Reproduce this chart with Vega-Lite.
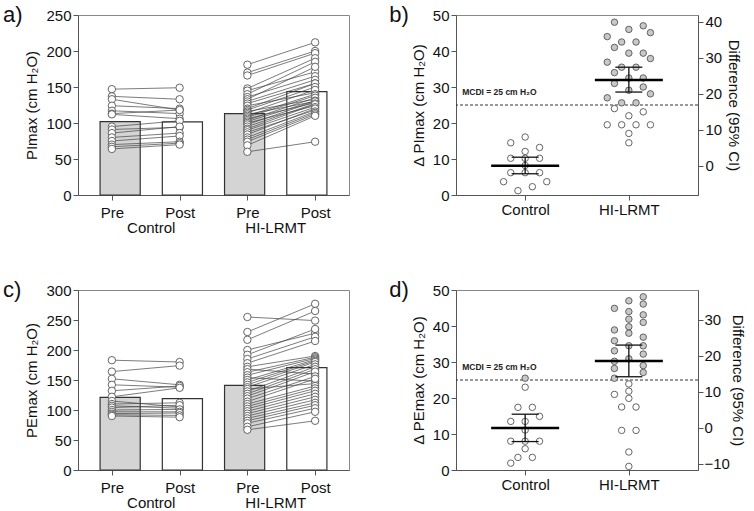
{
"padding": {"left": 2, "top": 3, "right": 0, "bottom": 0},
"config": {
  "font": "Liberation Sans",
  "view": {"stroke": "#888", "strokeWidth": 1},
  "axis": {"grid": false, "domainColor": "#555", "tickColor": "#555", "labelColor": "#111", "titleColor": "#111", "labelFontSize": 15, "titleFontSize": 15, "titleFontWeight": "normal", "tickSize": 5, "labelPadding": 2, "titlePadding": 6},
  "title": {"fontSize": 22, "fontWeight": "normal", "anchor": "start", "frame": "bounds", "color": "#111", "offset": -19, "dx": -22}
},
"spacing": 42,
"vconcat": [
{"spacing": 38, "hconcat": [
{
  "width": 271, "height": 180,
  "title": {"text": "a)"},
  "layer": [
    {
      "data": {"values": [
        {"g": "Control", "p": "Pre", "v": 102}, {"g": "Control", "p": "Post", "v": 101.5},
        {"g": "HI-LRMT", "p": "Pre", "v": 113}, {"g": "HI-LRMT", "p": "Post", "v": 143.5}]},
      "mark": {"type": "bar", "stroke": "#333", "strokeWidth": 1.2},
      "encoding": {
        "x": {"field": "g", "type": "nominal", "sort": ["Control", "HI-LRMT"], "scale": {"paddingInner": 0, "paddingOuter": 0.0887}, "axis": {"orient": "bottom", "title": null, "domain": false, "ticks": false, "labelPadding": 25, "labelAngle": 0}},
        "xOffset": {"field": "p", "type": "nominal", "sort": ["Pre", "Post"], "scale": {"paddingInner": 0.355, "paddingOuter": 0.1775}},
        "y": {"field": "v", "type": "quantitative", "scale": {"domain": [0, 250]}, "axis": {"values": [0, 50, 100, 150, 200, 250], "title": "PImax (cm H₂O)"}},
        "fill": {"field": "p", "type": "nominal", "scale": {"domain": ["Pre", "Post"], "range": ["#d4d4d4", "#ffffff"]}, "legend": null}
      }
    },
    {
      "data": {"values": [
        {"i":"C1","c":"C-Pre","v":147},{"i":"C1","c":"C-Post","v":149},
        {"i":"C2","c":"C-Pre","v":137},{"i":"C2","c":"C-Post","v":133},
        {"i":"C3","c":"C-Pre","v":133},{"i":"C3","c":"C-Post","v":118},
        {"i":"C4","c":"C-Pre","v":124},{"i":"C4","c":"C-Post","v":120},
        {"i":"C5","c":"C-Pre","v":117},{"i":"C5","c":"C-Post","v":113},
        {"i":"C6","c":"C-Pre","v":113},{"i":"C6","c":"C-Post","v":118},
        {"i":"C7","c":"C-Pre","v":112},{"i":"C7","c":"C-Post","v":106},
        {"i":"C8","c":"C-Pre","v":95},{"i":"C8","c":"C-Post","v":103},
        {"i":"C9","c":"C-Pre","v":91},{"i":"C9","c":"C-Post","v":94},
        {"i":"C10","c":"C-Pre","v":86},{"i":"C10","c":"C-Post","v":95},
        {"i":"C11","c":"C-Pre","v":80},{"i":"C11","c":"C-Post","v":86},
        {"i":"C12","c":"C-Pre","v":75},{"i":"C12","c":"C-Post","v":82},
        {"i":"C13","c":"C-Pre","v":70},{"i":"C13","c":"C-Post","v":74},
        {"i":"C14","c":"C-Pre","v":67},{"i":"C14","c":"C-Post","v":72},
        {"i":"C15","c":"C-Pre","v":64},{"i":"C15","c":"C-Post","v":70},
        {"i":"H1","c":"H-Pre","v":181},{"i":"H1","c":"H-Post","v":212},
        {"i":"H2","c":"H-Pre","v":170},{"i":"H2","c":"H-Post","v":200},
        {"i":"H3","c":"H-Pre","v":166},{"i":"H3","c":"H-Post","v":197},
        {"i":"H4","c":"H-Pre","v":148},{"i":"H4","c":"H-Post","v":190},
        {"i":"H5","c":"H-Pre","v":145},{"i":"H5","c":"H-Post","v":171},
        {"i":"H6","c":"H-Pre","v":140},{"i":"H6","c":"H-Post","v":185},
        {"i":"H7","c":"H-Pre","v":136},{"i":"H7","c":"H-Post","v":165},
        {"i":"H8","c":"H-Pre","v":133},{"i":"H8","c":"H-Post","v":178},
        {"i":"H9","c":"H-Pre","v":130},{"i":"H9","c":"H-Post","v":160},
        {"i":"H10","c":"H-Pre","v":127},{"i":"H10","c":"H-Post","v":155},
        {"i":"H11","c":"H-Pre","v":124},{"i":"H11","c":"H-Post","v":142},
        {"i":"H12","c":"H-Pre","v":120},{"i":"H12","c":"H-Post","v":155},
        {"i":"H13","c":"H-Pre","v":118},{"i":"H13","c":"H-Post","v":150},
        {"i":"H14","c":"H-Pre","v":116},{"i":"H14","c":"H-Post","v":133},
        {"i":"H15","c":"H-Pre","v":114},{"i":"H15","c":"H-Post","v":146},
        {"i":"H16","c":"H-Pre","v":112},{"i":"H16","c":"H-Post","v":130},
        {"i":"H17","c":"H-Pre","v":110},{"i":"H17","c":"H-Post","v":140},
        {"i":"H18","c":"H-Pre","v":108},{"i":"H18","c":"H-Post","v":138},
        {"i":"H19","c":"H-Pre","v":106},{"i":"H19","c":"H-Post","v":128},
        {"i":"H20","c":"H-Pre","v":104},{"i":"H20","c":"H-Post","v":135},
        {"i":"H21","c":"H-Pre","v":102},{"i":"H21","c":"H-Post","v":131},
        {"i":"H22","c":"H-Pre","v":100},{"i":"H22","c":"H-Post","v":124},
        {"i":"H23","c":"H-Pre","v":98},{"i":"H23","c":"H-Post","v":130},
        {"i":"H24","c":"H-Pre","v":95},{"i":"H24","c":"H-Post","v":127},
        {"i":"H25","c":"H-Pre","v":92},{"i":"H25","c":"H-Post","v":126},
        {"i":"H26","c":"H-Pre","v":90},{"i":"H26","c":"H-Post","v":122},
        {"i":"H27","c":"H-Pre","v":87},{"i":"H27","c":"H-Post","v":118},
        {"i":"H28","c":"H-Pre","v":84},{"i":"H28","c":"H-Post","v":120},
        {"i":"H29","c":"H-Pre","v":80},{"i":"H29","c":"H-Post","v":116},
        {"i":"H30","c":"H-Pre","v":77},{"i":"H30","c":"H-Post","v":114},
        {"i":"H31","c":"H-Pre","v":74},{"i":"H31","c":"H-Post","v":112},
        {"i":"H32","c":"H-Pre","v":69},{"i":"H32","c":"H-Post","v":110},
        {"i":"H33","c":"H-Pre","v":60},{"i":"H33","c":"H-Post","v":74}
      ]},
      "encoding": {
        "x": {"field": "c", "type": "nominal", "scale": {"domain": ["C-Pre", "C-Post", "H-Pre", "H-Post"], "paddingInner": 0.355, "paddingOuter": 0.355}, "axis": {"orient": "bottom", "title": null, "labelExpr": "split(datum.label, '-')[1]", "labelAngle": 0, "labelPadding": 5}},
        "y": {"field": "v", "type": "quantitative", "scale": {"domain": [0, 250]}, "axis": {"values": [0, 50, 100, 150, 200, 250], "title": "PImax (cm H₂O)"}}
      },
      "layer": [
        {"mark": {"type": "line", "color": "#444", "strokeWidth": 0.7}, "encoding": {"detail": {"field": "i"}}},
        {"mark": {"type": "circle", "size": 55, "fill": "#ffffff", "stroke": "#555", "strokeWidth": 0.9, "opacity": 1}}
      ]
    }
  ],
  "resolve": {"scale": {"x": "independent"}}
},
{
  "width": 242, "height": 180,
  "title": {"text": "b)"},
  "layer": [
    {
      "encoding": {"y": {"field": "v", "type": "quantitative", "scale": {"domain": [0, 50]}, "axis": {"values": [0, 10, 20, 30, 40, 50], "title": "Δ PImax (cm H₂O)"}}},
      "layer": [
        {"data": {"values": [{"v": 25}]}, "mark": {"type": "rule", "strokeDash": [3, 2], "color": "#333", "strokeWidth": 1}},
        {"data": {"values": [{"g": "Control", "v": 25, "t": "MCDI = 25 cm H₂O"}]},
         "mark": {"type": "text", "align": "left", "baseline": "bottom", "dx": -63, "dy": -8, "fontSize": 8.5, "fontWeight": "bold", "color": "#222"},
         "encoding": {"x": {"field": "g", "type": "nominal", "scale": {"type": "point", "padding": 0.667, "domain": ["Control", "HI-LRMT"]}, "axis": {"title": null, "labelAngle": 0}}, "text": {"field": "t"}}},
        {"data": {"values": [
          {"g":"Control","k":0,"v":16.1},{"g":"Control","k":-2,"v":14.5},{"g":"Control","k":2,"v":13.2},{"g":"Control","k":0,"v":12.1},
          {"g":"Control","k":-2,"v":10.2},{"g":"Control","k":0,"v":10.2},{"g":"Control","k":2,"v":10.2},{"g":"Control","k":0,"v":8.2},
          {"g":"Control","k":-2,"v":6.2},{"g":"Control","k":0,"v":6.2},{"g":"Control","k":2,"v":6.2},{"g":"Control","k":-3,"v":3.7},
          {"g":"Control","k":3,"v":3.7},{"g":"Control","k":1,"v":2.3},{"g":"Control","k":-1,"v":1.2},
          {"g":"HI-LRMT","k":-2,"v":48.0},{"g":"HI-LRMT","k":2,"v":47.0},{"g":"HI-LRMT","k":0,"v":46.0},{"g":"HI-LRMT","k":3,"v":45.1},
          {"g":"HI-LRMT","k":-3,"v":44.0},{"g":"HI-LRMT","k":-1,"v":42.5},{"g":"HI-LRMT","k":1,"v":42.5},{"g":"HI-LRMT","k":-2,"v":41.0},
          {"g":"HI-LRMT","k":0,"v":39.4},{"g":"HI-LRMT","k":2,"v":39.4},{"g":"HI-LRMT","k":3,"v":37.9},{"g":"HI-LRMT","k":-3,"v":36.9},
          {"g":"HI-LRMT","k":-1,"v":35.5},{"g":"HI-LRMT","k":1,"v":35.5},{"g":"HI-LRMT","k":-2,"v":34.0},{"g":"HI-LRMT","k":0,"v":32.5},
          {"g":"HI-LRMT","k":2,"v":32.5},{"g":"HI-LRMT","k":-2,"v":31.0},{"g":"HI-LRMT","k":2,"v":30.0},{"g":"HI-LRMT","k":0,"v":29.1},
          {"g":"HI-LRMT","k":3,"v":28.1},{"g":"HI-LRMT","k":-3,"v":27.0},{"g":"HI-LRMT","k":-1,"v":25.6},{"g":"HI-LRMT","k":1,"v":25.6},
          {"g":"HI-LRMT","k":-2,"v":24.0},{"g":"HI-LRMT","k":2,"v":23.1},{"g":"HI-LRMT","k":0,"v":22.0},{"g":"HI-LRMT","k":-3,"v":19.5},
          {"g":"HI-LRMT","k":-1,"v":19.5},{"g":"HI-LRMT","k":1,"v":19.5},{"g":"HI-LRMT","k":3,"v":19.5},{"g":"HI-LRMT","k":0,"v":17.1},
          {"g":"HI-LRMT","k":0,"v":14.5}]},
         "mark": {"type": "circle", "size": 42, "stroke": "#555", "strokeWidth": 0.9, "opacity": 1},
         "encoding": {
           "x": {"field": "g", "type": "nominal", "scale": {"type": "point", "padding": 0.667, "domain": ["Control", "HI-LRMT"]}, "axis": {"title": null, "labelAngle": 0}},
           "xOffset": {"field": "k", "type": "quantitative", "scale": {"domain": [-5, 5], "range": [-36, 36]}},
           "fill": {"condition": {"test": "datum.v > 25", "value": "#c8c8c8"}, "value": "#ffffff"}
         }},
        {"data": {"values": [{"g": "Control", "v": 5.9, "v2": 10.5}, {"g": "HI-LRMT", "v": 28.6, "v2": 35.5}]},
         "mark": {"type": "rule", "color": "#111", "strokeWidth": 1.3},
         "encoding": {"x": {"field": "g", "type": "nominal", "scale": {"type": "point", "padding": 0.667, "domain": ["Control", "HI-LRMT"]}, "axis": {"title": null, "labelAngle": 0}}, "y2": {"field": "v2"}}},
        {"data": {"values": [{"g": "Control", "v": 5.9}, {"g": "Control", "v": 10.5}, {"g": "HI-LRMT", "v": 28.6}, {"g": "HI-LRMT", "v": 35.5}]},
         "mark": {"type": "tick", "size": 27, "thickness": 1.3, "color": "#111", "opacity": 1},
         "encoding": {"x": {"field": "g", "type": "nominal", "scale": {"type": "point", "padding": 0.667, "domain": ["Control", "HI-LRMT"]}, "axis": {"title": null, "labelAngle": 0}}}}
      ]
    },
    {"data": {"values": [{"g": "Control", "d": 0}, {"g": "HI-LRMT", "d": 23.8}]},
     "mark": {"type": "tick", "size": 68, "thickness": 2.5, "color": "#000", "opacity": 1},
     "encoding": {
       "x": {"field": "g", "type": "nominal", "scale": {"type": "point", "padding": 0.667, "domain": ["Control", "HI-LRMT"]}, "axis": {"title": null, "labelAngle": 0}},
       "y": {"field": "d", "type": "quantitative", "scale": {"domain": [-8.14, 41.86], "nice": false, "zero": false}, "axis": {"orient": "right", "values": [0, 10, 20, 30, 40], "title": "Difference (95% CI)", "titlePadding": 4}}
     }}
  ],
  "resolve": {"scale": {"y": "independent"}}
}
]},
{"spacing": 38, "hconcat": [
{
  "width": 271, "height": 180,
  "title": {"text": "c)"},
  "layer": [
    {
      "data": {"values": [
        {"g": "Control", "p": "Pre", "v": 121}, {"g": "Control", "p": "Post", "v": 119},
        {"g": "HI-LRMT", "p": "Pre", "v": 141}, {"g": "HI-LRMT", "p": "Post", "v": 170.6}]},
      "mark": {"type": "bar", "stroke": "#333", "strokeWidth": 1.2},
      "encoding": {
        "x": {"field": "g", "type": "nominal", "sort": ["Control", "HI-LRMT"], "scale": {"paddingInner": 0, "paddingOuter": 0.0887}, "axis": {"orient": "bottom", "title": null, "domain": false, "ticks": false, "labelPadding": 25, "labelAngle": 0}},
        "xOffset": {"field": "p", "type": "nominal", "sort": ["Pre", "Post"], "scale": {"paddingInner": 0.355, "paddingOuter": 0.1775}},
        "y": {"field": "v", "type": "quantitative", "scale": {"domain": [0, 300]}, "axis": {"values": [0, 50, 100, 150, 200, 250, 300], "title": "PEmax (cm H₂O)"}},
        "fill": {"field": "p", "type": "nominal", "scale": {"domain": ["Pre", "Post"], "range": ["#d4d4d4", "#ffffff"]}, "legend": null}
      }
    },
    {
      "data": {"values": [
        {"i":"C1","c":"C-Pre","v":183},{"i":"C1","c":"C-Post","v":180},
        {"i":"C2","c":"C-Pre","v":164},{"i":"C2","c":"C-Post","v":174},
        {"i":"C3","c":"C-Pre","v":152},{"i":"C3","c":"C-Post","v":142},
        {"i":"C4","c":"C-Pre","v":142},{"i":"C4","c":"C-Post","v":138},
        {"i":"C5","c":"C-Pre","v":132},{"i":"C5","c":"C-Post","v":140},
        {"i":"C6","c":"C-Pre","v":122},{"i":"C6","c":"C-Post","v":137},
        {"i":"C7","c":"C-Pre","v":115},{"i":"C7","c":"C-Post","v":105},
        {"i":"C8","c":"C-Pre","v":110},{"i":"C8","c":"C-Post","v":112},
        {"i":"C9","c":"C-Pre","v":107},{"i":"C9","c":"C-Post","v":103},
        {"i":"C10","c":"C-Pre","v":104},{"i":"C10","c":"C-Post","v":108},
        {"i":"C11","c":"C-Pre","v":100},{"i":"C11","c":"C-Post","v":101},
        {"i":"C12","c":"C-Pre","v":97},{"i":"C12","c":"C-Post","v":97},
        {"i":"C13","c":"C-Pre","v":94},{"i":"C13","c":"C-Post","v":95},
        {"i":"C14","c":"C-Pre","v":92},{"i":"C14","c":"C-Post","v":91},
        {"i":"C15","c":"C-Pre","v":90},{"i":"C15","c":"C-Post","v":88},
        {"i":"H1","c":"H-Pre","v":255},{"i":"H1","c":"H-Post","v":249},
        {"i":"H2","c":"H-Pre","v":230},{"i":"H2","c":"H-Post","v":277},
        {"i":"H3","c":"H-Pre","v":217},{"i":"H3","c":"H-Post","v":265},
        {"i":"H4","c":"H-Pre","v":200},{"i":"H4","c":"H-Post","v":228},
        {"i":"H5","c":"H-Pre","v":192},{"i":"H5","c":"H-Post","v":235},
        {"i":"H6","c":"H-Pre","v":185},{"i":"H6","c":"H-Post","v":222},
        {"i":"H7","c":"H-Pre","v":178},{"i":"H7","c":"H-Post","v":215},
        {"i":"H8","c":"H-Pre","v":172},{"i":"H8","c":"H-Post","v":190},
        {"i":"H9","c":"H-Pre","v":168},{"i":"H9","c":"H-Post","v":160},
        {"i":"H10","c":"H-Pre","v":163},{"i":"H10","c":"H-Post","v":188},
        {"i":"H11","c":"H-Pre","v":158},{"i":"H11","c":"H-Post","v":186},
        {"i":"H12","c":"H-Pre","v":154},{"i":"H12","c":"H-Post","v":148},
        {"i":"H13","c":"H-Pre","v":150},{"i":"H13","c":"H-Post","v":184},
        {"i":"H14","c":"H-Pre","v":146},{"i":"H14","c":"H-Post","v":182},
        {"i":"H15","c":"H-Pre","v":142},{"i":"H15","c":"H-Post","v":180},
        {"i":"H16","c":"H-Pre","v":138},{"i":"H16","c":"H-Post","v":176},
        {"i":"H17","c":"H-Pre","v":135},{"i":"H17","c":"H-Post","v":144},
        {"i":"H18","c":"H-Pre","v":131},{"i":"H18","c":"H-Post","v":172},
        {"i":"H19","c":"H-Pre","v":127},{"i":"H19","c":"H-Post","v":168},
        {"i":"H20","c":"H-Pre","v":123},{"i":"H20","c":"H-Post","v":164},
        {"i":"H21","c":"H-Pre","v":119},{"i":"H21","c":"H-Post","v":156},
        {"i":"H22","c":"H-Pre","v":114},{"i":"H22","c":"H-Post","v":152},
        {"i":"H23","c":"H-Pre","v":110},{"i":"H23","c":"H-Post","v":140},
        {"i":"H24","c":"H-Pre","v":106},{"i":"H24","c":"H-Post","v":136},
        {"i":"H25","c":"H-Pre","v":102},{"i":"H25","c":"H-Post","v":132},
        {"i":"H26","c":"H-Pre","v":98},{"i":"H26","c":"H-Post","v":127},
        {"i":"H27","c":"H-Pre","v":94},{"i":"H27","c":"H-Post","v":122},
        {"i":"H28","c":"H-Pre","v":90},{"i":"H28","c":"H-Post","v":117},
        {"i":"H29","c":"H-Pre","v":86},{"i":"H29","c":"H-Post","v":112},
        {"i":"H30","c":"H-Pre","v":82},{"i":"H30","c":"H-Post","v":108},
        {"i":"H31","c":"H-Pre","v":78},{"i":"H31","c":"H-Post","v":103},
        {"i":"H32","c":"H-Pre","v":72},{"i":"H32","c":"H-Post","v":97},
        {"i":"H33","c":"H-Pre","v":67},{"i":"H33","c":"H-Post","v":82}
      ]},
      "encoding": {
        "x": {"field": "c", "type": "nominal", "scale": {"domain": ["C-Pre", "C-Post", "H-Pre", "H-Post"], "paddingInner": 0.355, "paddingOuter": 0.355}, "axis": {"orient": "bottom", "title": null, "labelExpr": "split(datum.label, '-')[1]", "labelAngle": 0, "labelPadding": 5}},
        "y": {"field": "v", "type": "quantitative", "scale": {"domain": [0, 300]}, "axis": {"values": [0, 50, 100, 150, 200, 250, 300], "title": "PEmax (cm H₂O)"}}
      },
      "layer": [
        {"mark": {"type": "line", "color": "#444", "strokeWidth": 0.7}, "encoding": {"detail": {"field": "i"}}},
        {"mark": {"type": "circle", "size": 55, "fill": "#ffffff", "stroke": "#555", "strokeWidth": 0.9, "opacity": 1}}
      ]
    }
  ],
  "resolve": {"scale": {"x": "independent"}}
},
{
  "width": 242, "height": 180,
  "title": {"text": "d)"},
  "layer": [
    {
      "encoding": {"y": {"field": "v", "type": "quantitative", "scale": {"domain": [0, 50]}, "axis": {"values": [0, 10, 20, 30, 40, 50], "title": "Δ PEmax (cm H₂O)"}}},
      "layer": [
        {"data": {"values": [{"v": 25}]}, "mark": {"type": "rule", "strokeDash": [3, 2], "color": "#333", "strokeWidth": 1}},
        {"data": {"values": [{"g": "Control", "v": 25, "t": "MCDI = 25 cm H₂O"}]},
         "mark": {"type": "text", "align": "left", "baseline": "bottom", "dx": -63, "dy": -8, "fontSize": 8.5, "fontWeight": "bold", "color": "#222"},
         "encoding": {"x": {"field": "g", "type": "nominal", "scale": {"type": "point", "padding": 0.667, "domain": ["Control", "HI-LRMT"]}, "axis": {"title": null, "labelAngle": 0}}, "text": {"field": "t"}}},
        {"data": {"values": [
          {"g":"Control","k":0,"v":25.5},{"g":"Control","k":0,"v":23.0},{"g":"Control","k":-1,"v":17.4},{"g":"Control","k":1,"v":17.4},
          {"g":"Control","k":-2,"v":13.5},{"g":"Control","k":0,"v":13.5},{"g":"Control","k":2,"v":14.9},{"g":"Control","k":0,"v":11.1},
          {"g":"Control","k":-2,"v":8.0},{"g":"Control","k":0,"v":8.0},{"g":"Control","k":2,"v":8.0},{"g":"Control","k":0,"v":5.9},
          {"g":"Control","k":-1,"v":3.5},{"g":"Control","k":1,"v":3.5},{"g":"Control","k":-2,"v":1.9},
          {"g":"HI-LRMT","k":2,"v":48.1},{"g":"HI-LRMT","k":2,"v":46.1},{"g":"HI-LRMT","k":2,"v":43.1},{"g":"HI-LRMT","k":2,"v":41.0},
          {"g":"HI-LRMT","k":2,"v":36.9},{"g":"HI-LRMT","k":2,"v":34.5},{"g":"HI-LRMT","k":2,"v":32.2},{"g":"HI-LRMT","k":2,"v":29.0},
          {"g":"HI-LRMT","k":2,"v":27.1},
          {"g":"HI-LRMT","k":0,"v":47.0},{"g":"HI-LRMT","k":0,"v":44.0},{"g":"HI-LRMT","k":0,"v":41.9},{"g":"HI-LRMT","k":0,"v":39.8},
          {"g":"HI-LRMT","k":0,"v":38.0},{"g":"HI-LRMT","k":0,"v":34.5},{"g":"HI-LRMT","k":0,"v":30.9},{"g":"HI-LRMT","k":0,"v":23.9},
          {"g":"HI-LRMT","k":0,"v":21.9},{"g":"HI-LRMT","k":0,"v":19.9},
          {"g":"HI-LRMT","k":-2,"v":44.9},{"g":"HI-LRMT","k":-2,"v":38.9},{"g":"HI-LRMT","k":-2,"v":35.9},{"g":"HI-LRMT","k":-2,"v":33.1},
          {"g":"HI-LRMT","k":-2,"v":30.2},{"g":"HI-LRMT","k":-2,"v":28.2},{"g":"HI-LRMT","k":-2,"v":25.5},{"g":"HI-LRMT","k":-2,"v":21.0},
          {"g":"HI-LRMT","k":-1,"v":17.5},{"g":"HI-LRMT","k":1,"v":17.5},{"g":"HI-LRMT","k":-1,"v":11.0},{"g":"HI-LRMT","k":1,"v":11.0},
          {"g":"HI-LRMT","k":0,"v":5.0},{"g":"HI-LRMT","k":0,"v":1.0}]},
         "mark": {"type": "circle", "size": 42, "stroke": "#555", "strokeWidth": 0.9, "opacity": 1},
         "encoding": {
           "x": {"field": "g", "type": "nominal", "scale": {"type": "point", "padding": 0.667, "domain": ["Control", "HI-LRMT"]}, "axis": {"title": null, "labelAngle": 0}},
           "xOffset": {"field": "k", "type": "quantitative", "scale": {"domain": [-5, 5], "range": [-36, 36]}},
           "fill": {"condition": {"test": "datum.v > 25", "value": "#c8c8c8"}, "value": "#ffffff"}
         }},
        {"data": {"values": [{"g": "Control", "v": 7.9, "v2": 15.5}, {"g": "HI-LRMT", "v": 25.9, "v2": 34.7}]},
         "mark": {"type": "rule", "color": "#111", "strokeWidth": 1.3},
         "encoding": {"x": {"field": "g", "type": "nominal", "scale": {"type": "point", "padding": 0.667, "domain": ["Control", "HI-LRMT"]}, "axis": {"title": null, "labelAngle": 0}}, "y2": {"field": "v2"}}},
        {"data": {"values": [{"g": "Control", "v": 7.9}, {"g": "Control", "v": 15.5}, {"g": "HI-LRMT", "v": 25.9}, {"g": "HI-LRMT", "v": 34.7}]},
         "mark": {"type": "tick", "size": 27, "thickness": 1.3, "color": "#111", "opacity": 1},
         "encoding": {"x": {"field": "g", "type": "nominal", "scale": {"type": "point", "padding": 0.667, "domain": ["Control", "HI-LRMT"]}, "axis": {"title": null, "labelAngle": 0}}}}
      ]
    },
    {"data": {"values": [{"g": "Control", "d": 0}, {"g": "HI-LRMT", "d": 18.6}]},
     "mark": {"type": "tick", "size": 68, "thickness": 2.5, "color": "#000", "opacity": 1},
     "encoding": {
       "x": {"field": "g", "type": "nominal", "scale": {"type": "point", "padding": 0.667, "domain": ["Control", "HI-LRMT"]}, "axis": {"title": null, "labelAngle": 0}},
       "y": {"field": "d", "type": "quantitative", "scale": {"domain": [-11.67, 38.33], "nice": false, "zero": false}, "axis": {"orient": "right", "values": [-10, 0, 10, 20, 30], "title": "Difference (95% CI)", "titlePadding": 0, "labelPadding": 1}}
     }}
  ],
  "resolve": {"scale": {"y": "independent"}}
}
]}
]
}
